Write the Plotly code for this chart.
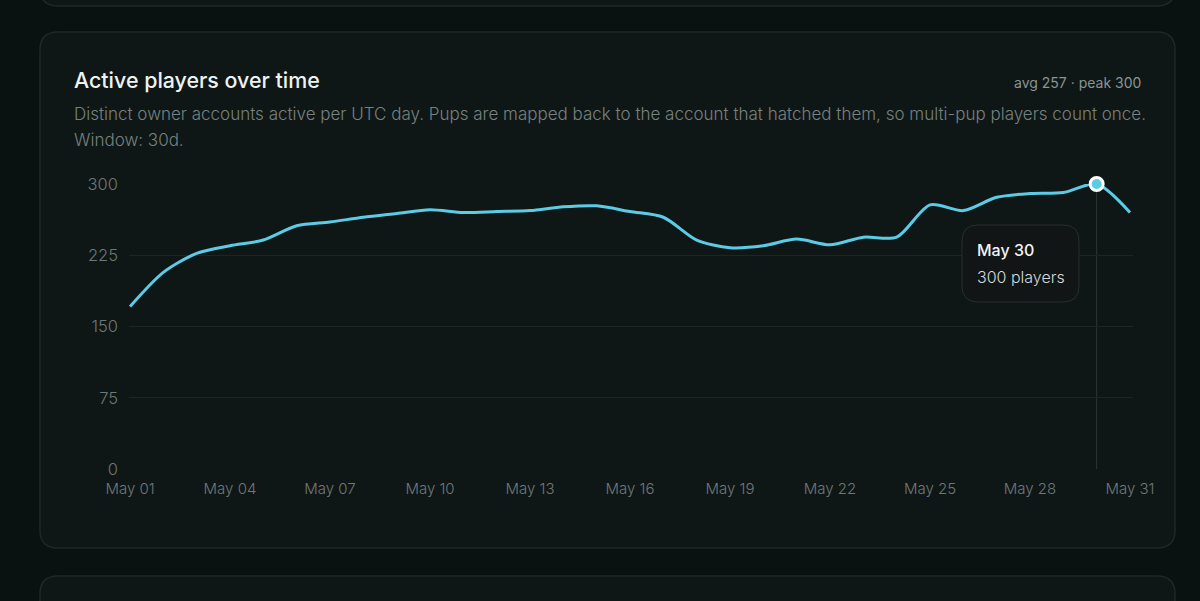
import plotly.graph_objects as go

# ---- data ----
dates = [f"2025-05-{d:02d}" for d in range(1, 32)]
players = [171, 207, 227, 235, 241, 256, 260, 265, 269, 273,
           270, 271, 272, 276, 277, 271, 265, 241, 233, 235,
           242, 236, 244, 244, 278, 272, 286, 290, 291, 300, 270]
y_ticks = [0, 75, 150, 225, 300]
title_text = "Active players over time"
subtitle_1 = "Distinct owner accounts active per UTC day. Pups are mapped back to the account that hatched them, so multi-pup players count once."
subtitle_2 = "Window: 30d."
stats_text = "avg 257 · peak 300"

peak_i = max(range(len(players)), key=lambda i: players[i])
peak_date = dates[peak_i]
peak_val = players[peak_i]
tip_date = "May " + peak_date[-2:]
tip_val = f"{peak_val} players"

# ---- geometry helpers (plot area pixels) ----
L, R, T, B = 129, 1133, 184, 469
W, H = R - L, B - T


def px(x):
    return (x - L) / W


def py(y):
    return (B - y) / H


def rrect(x0, y0, x1, y1, r):
    pts = []
    pts.append(f"M {px(x0 + r)} {py(y0)}")
    pts.append(f"L {px(x1 - r)} {py(y0)}")
    pts.append(f"Q {px(x1)} {py(y0)} {px(x1)} {py(y0 + r)}")
    pts.append(f"L {px(x1)} {py(y1 - r)}")
    pts.append(f"Q {px(x1)} {py(y1)} {px(x1 - r)} {py(y1)}")
    pts.append(f"L {px(x0 + r)} {py(y1)}")
    pts.append(f"Q {px(x0)} {py(y1)} {px(x0)} {py(y1 - r)}")
    pts.append(f"L {px(x0)} {py(y0 + r)}")
    pts.append(f"Q {px(x0)} {py(y0)} {px(x0 + r)} {py(y0)}")
    pts.append("Z")
    return " ".join(pts)


FONT = "Inter"
LINE_C = "#5ccbe6"

fig = go.Figure()
fig.add_trace(go.Scatter(
    x=dates, y=players, mode="lines",
    line=dict(color=LINE_C, width=3, shape="spline", smoothing=0.8),
    hoverinfo="skip", cliponaxis=False, showlegend=False,
))
fig.add_trace(go.Scatter(
    x=[peak_date], y=[peak_val], mode="markers",
    marker=dict(size=13, color=LINE_C, line=dict(color="#ffffff", width=3)),
    hoverinfo="skip", cliponaxis=False, showlegend=False,
))

shapes = [
    dict(type="path", xref="paper", yref="paper", path=rrect(40, -80, 1175, 6, 18),
         fillcolor="#0e1716", line=dict(color="#1d2827", width=1.5), layer="below"),
    dict(type="path", xref="paper", yref="paper", path=rrect(40, 32, 1175, 548, 18),
         fillcolor="#0e1716", line=dict(color="#1d2827", width=1.5), layer="below"),
    dict(type="path", xref="paper", yref="paper", path=rrect(40, 576, 1175, 700, 18),
         fillcolor="#0e1716", line=dict(color="#1d2827", width=1.5), layer="below"),
    dict(type="line", xref="x", yref="y", x0=peak_date, x1=peak_date, y0=0, y1=peak_val,
         line=dict(color="#2c3736", width=1), layer="below"),
    dict(type="path", xref="paper", yref="paper", path=rrect(962, 225, 1079, 302, 16),
         fillcolor="#111515", line=dict(color="#262d2d", width=1), layer="above"),
]

annotations = [
    dict(text=title_text, xref="paper", yref="paper", x=px(72), y=py(80),
         xanchor="left", yanchor="middle", showarrow=False,
         font=dict(family=FONT, size=21.4, color="#eef2f2", weight=500)),
    dict(text=stats_text, xref="paper", yref="paper", x=px(1143), y=py(82),
         xanchor="right", yanchor="middle", showarrow=False,
         font=dict(family=FONT, size=14, color="#8a9493")),
    dict(text=subtitle_1, xref="paper", yref="paper", x=px(72), y=py(114),
         xanchor="left", yanchor="middle", showarrow=False,
         font=dict(family=FONT, size=17, color="#77817f", weight=300)),
    dict(text=subtitle_2, xref="paper", yref="paper", x=px(72), y=py(140),
         xanchor="left", yanchor="middle", showarrow=False,
         font=dict(family=FONT, size=17, color="#77817f", weight=300)),
    dict(text=tip_date, xref="paper", yref="paper", x=px(975), y=py(250),
         xanchor="left", yanchor="middle", showarrow=False,
         font=dict(family=FONT, size=16, color="#f2f4f4", weight=500)),
    dict(text=tip_val, xref="paper", yref="paper", x=px(975), y=py(277),
         xanchor="left", yanchor="middle", showarrow=False,
         font=dict(family=FONT, size=16, color="#d6dada", weight=300)),
]

fig.update_layout(
    width=1200, height=601,
    margin=dict(l=L, r=1200 - R, t=T, b=601 - B, pad=0),
    paper_bgcolor="#0a1211", plot_bgcolor="rgba(0,0,0,0)",
    shapes=shapes, annotations=annotations,
    showlegend=False,
    font=dict(family=FONT, color="#6e7877", size=14),
)
fig.update_xaxes(
    type="date",
    range=["2025-04-30 23:17", "2025-05-31 02:10"],
    tick0="2025-05-01", dtick=3 * 86400000, tickformat="%b %d",
    showgrid=False, zeroline=False, showline=False, ticks="",
    tickfont=dict(family=FONT, size=15, color="#6e7877", weight=300),
    ticklabelstandoff=9,
)
fig.update_yaxes(
    range=[0, 300], tickvals=y_ticks,
    showgrid=True, gridcolor="#1c2625", gridwidth=1,
    zeroline=False, showline=False, ticks="",
    tickfont=dict(family=FONT, size=16.5, color="#6e7877", weight=300),
    ticklabelstandoff=10,
)

fig.write_html("out.html")
